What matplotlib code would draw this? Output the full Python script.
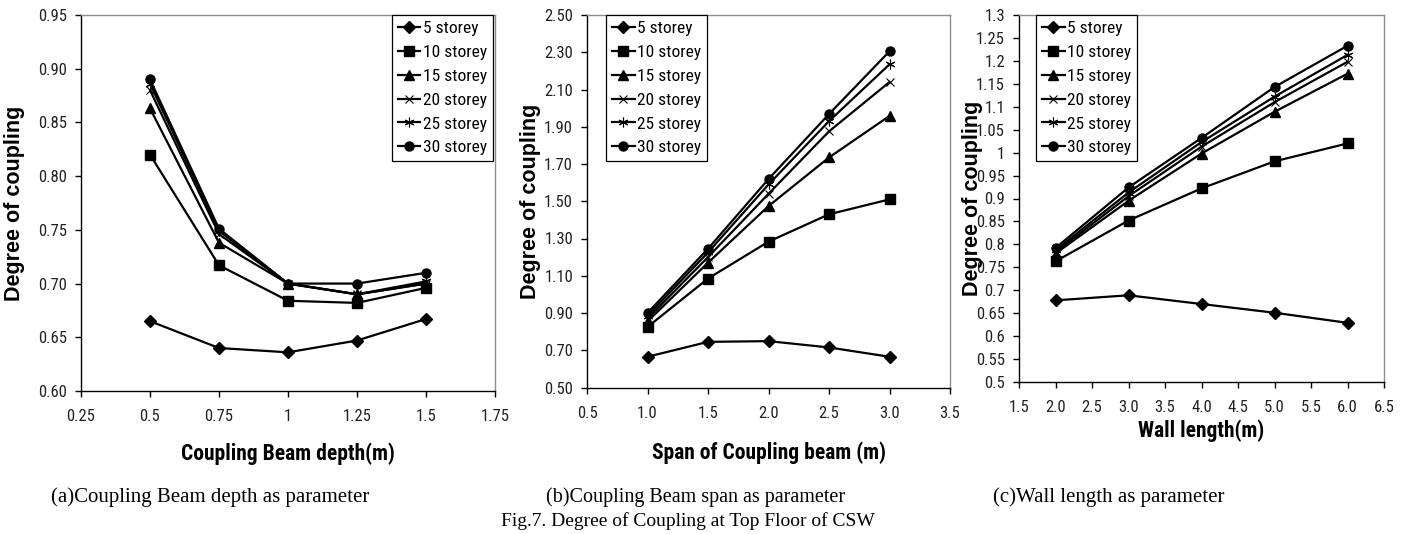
import numpy as np
import matplotlib
matplotlib.use("Agg")
import matplotlib.pyplot as plt
from matplotlib import font_manager
from matplotlib.ticker import FixedLocator, FuncFormatter

# values
storeys = ["5 storey", "10 storey", "15 storey", "20 storey", "25 storey", "30 storey"]

depth_x = [0.5, 0.75, 1.0, 1.25, 1.5]
depth_y = [
    [0.665, 0.640, 0.636, 0.647, 0.667],
    [0.820, 0.717, 0.684, 0.682, 0.696],
    [0.863, 0.738, 0.700, 0.690, 0.700],
    [0.880, 0.746, 0.700, 0.690, 0.700],
    [0.886, 0.749, 0.700, 0.690, 0.702],
    [0.890, 0.751, 0.700, 0.700, 0.710],
]

span_x = [1.0, 1.5, 2.0, 2.5, 3.0]
span_y = [
    [0.665, 0.745, 0.749, 0.715, 0.665],
    [0.825, 1.085, 1.283, 1.430, 1.510],
    [0.855, 1.170, 1.474, 1.735, 1.958],
    [0.870, 1.200, 1.540, 1.875, 2.140],
    [0.885, 1.225, 1.590, 1.930, 2.235],
    [0.900, 1.245, 1.619, 1.968, 2.305],
]

wall_x = [2.0, 3.0, 4.0, 5.0, 6.0]
wall_y = [
    [0.678, 0.689, 0.670, 0.651, 0.629],
    [0.763, 0.852, 0.922, 0.981, 1.020],
    [0.780, 0.895, 0.998, 1.089, 1.172],
    [0.783, 0.905, 1.013, 1.110, 1.198],
    [0.787, 0.913, 1.023, 1.122, 1.213],
    [0.792, 0.924, 1.032, 1.143, 1.233],
]

W, H = 1403, 534
installed = {f.name for f in font_manager.fontManager.ttflist}
NARROW = next((n for n in ["Liberation Sans Narrow", "Arial Narrow", "Roboto Condensed",
                           "PT Sans Narrow"] if n in installed), "Liberation Sans")
SANS = "Liberation Sans"
SERIF = "Liberation Serif"

# marker, size, edge width
STYLES = [("D", 6.5, 1.0), ("s", 7, 1.0), ("^", 7.5, 1.0),
          ("x", 6, 0.8), ((6, 2, 0), 7, 0.8), ("o", 6.5, 1.0)]

fig = plt.figure(figsize=(W / 100, H / 100), dpi=100)


def px_axes(x0, x1, y0, y1):
    return fig.add_axes([x0 / W, 1 - y1 / H, (x1 - x0) / W, (y1 - y0) / H])


def steps(lo, hi, step):
    return np.round(np.arange(lo, hi + step / 2, step), 4)


def fmt_g(v, pos):
    return "{:g}".format(round(v, 3))


def panel(box, xs, ys, xlim, xstep, ylim, ystep, xfmt, yfmt, xlabel,
          xlab_top, ylab_right, leg_xy, leg_loc):
    x0, x1, y0, y1 = box
    ax = px_axes(x0, x1, y0, y1)
    for vals, lab, (m, ms, mew) in zip(ys, storeys, STYLES):
        ax.plot(xs, vals, color="black", lw=1.6, marker=m, markersize=ms,
                markeredgewidth=mew, markerfacecolor="black",
                markeredgecolor="black", label=lab)
    ax.set_xlim(*xlim)
    ax.set_ylim(*ylim)
    ax.xaxis.set_major_locator(FixedLocator(steps(xlim[0], xlim[1], xstep)))
    ax.yaxis.set_major_locator(FixedLocator(steps(ylim[0], ylim[1], ystep)))
    ax.xaxis.set_major_formatter(xfmt)
    ax.yaxis.set_major_formatter(yfmt)
    for side in ("top", "right"):
        ax.spines[side].set_color("#8c8c8c")
        ax.spines[side].set_linewidth(1.0)
    for side in ("left", "bottom"):
        ax.spines[side].set_color("black")
        ax.spines[side].set_linewidth(1.0)
    ax.tick_params(axis="both", direction="out", length=4, width=1, color="black")
    ax.tick_params(axis="y", pad=6)
    ax.tick_params(axis="x", pad=9)
    for t in ax.get_xticklabels() + ax.get_yticklabels():
        t.set_fontfamily(NARROW)
        t.set_fontsize(12)
        t.set_color("#222222")
    ax.set_xlabel(xlabel, fontfamily=NARROW, fontweight="bold", fontsize=15.5)
    ax.xaxis.set_label_coords(0.5, -(xlab_top - y1) / (y1 - y0))
    ax.set_ylabel("Degree of coupling", fontfamily=SANS, fontweight="bold", fontsize=15.5)
    ax.yaxis.set_label_coords(-(x0 - ylab_right) / (x1 - x0), 0.5)
    leg = ax.legend(loc=leg_loc, bbox_to_anchor=(leg_xy[0] / W, 1 - leg_xy[1] / H),
                    bbox_transform=fig.transFigure, frameon=True, fancybox=False,
                    edgecolor="black", framealpha=1, borderaxespad=0,
                    prop={"family": NARROW, "size": 12.5}, handlelength=1.3,
                    handletextpad=0.15, labelspacing=0.5, borderpad=0.35)
    leg.get_frame().set_linewidth(0.9)
    return ax


panel((81, 495, 15, 391), depth_x, depth_y, (0.25, 1.75), 0.25, (0.60, 0.95), 0.05,
      FuncFormatter(fmt_g), FuncFormatter(lambda v, p: "%.2f" % v),
      "Coupling Beam depth(m)", 442, 25, (493, 15), "upper right")

panel((587, 950, 15, 387.5), span_x, span_y, (0.5, 3.5), 0.5, (0.5, 2.5), 0.2,
      FuncFormatter(lambda v, p: "%.1f" % v), FuncFormatter(lambda v, p: "%.2f" % v),
      "Span of Coupling beam (m)", 441, 541, (606, 15), "upper left")

panel((1019, 1384, 15, 382), wall_x, wall_y, (1.5, 6.5), 0.5, (0.5, 1.3), 0.05,
      FuncFormatter(lambda v, p: "%.1f" % v), FuncFormatter(fmt_g),
      "Wall length(m)", 419, 983, (1036, 15), "upper left")

cap = dict(fontfamily=SERIF, ha="center", va="center")
fig.text(210 / W, 1 - 497 / H, "(a)Coupling Beam depth as parameter", fontsize=15, **cap)
fig.text(696 / W, 1 - 497 / H, "(b)Coupling Beam span as parameter", fontsize=14.5, **cap)
fig.text(1109 / W, 1 - 497 / H, "(c)Wall length as parameter", fontsize=15, **cap)
fig.text(688 / W, 1 - 521 / H, "Fig.7. Degree of Coupling at Top Floor of CSW", fontsize=14, **cap)

fig.savefig("out.png", dpi=100)
